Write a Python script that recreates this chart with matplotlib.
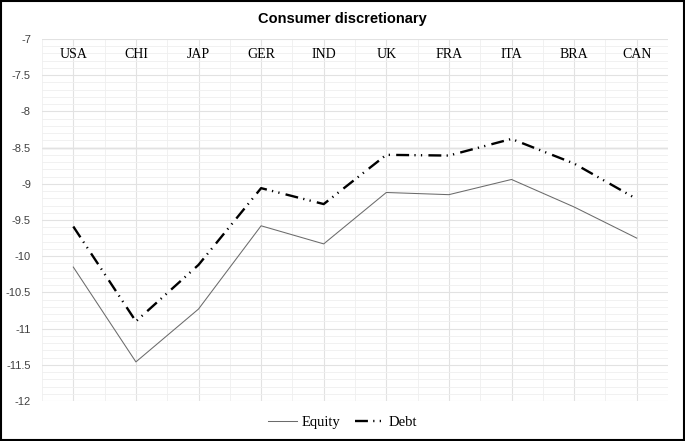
import matplotlib.pyplot as plt
import numpy as np

plt.rcParams['lines.scale_dashes'] = False

# data
countries = ['USA', 'CHI', 'JAP', 'GER', 'IND', 'UK', 'FRA', 'ITA', 'BRA', 'CAN']
equity = [-10.15, -11.46, -10.73, -9.58, -9.83, -9.12, -9.15, -8.94, -9.32, -9.75]
debt = [-9.59, -10.90, -10.12, -9.06, -9.28, -8.60, -8.61, -8.38, -8.72, -9.21]

fig = plt.figure(figsize=(6.85, 4.41), dpi=100)
ax = fig.add_axes([42 / 685, 40 / 441, 626 / 685, 362 / 441])

x = np.arange(len(countries))
ax.plot(x, equity, '-', color='#6b6b6b', lw=0.75, label='Equity')
ax.plot(x, debt, color='black', lw=1.7, dashes=(9.3, 3.8, 0.9, 3.8, 0.9, 4.5), label='Debt')

ax.set_xlim(-0.48, 9.45)
ax.set_ylim(-12, -7)
ax.set_yticks(np.arange(-12, -6.9, 0.5))
ax.set_yticklabels([f'{v:g}' for v in np.arange(-12, -6.9, 0.5)],
                   fontsize=8, color='#404040', family='Liberation Sans')
ax.set_yticks(np.arange(-12, -7, 0.1), minor=True)
ax.set_xticks(x)
ax.set_xticklabels([])
ax.set_xticks(np.arange(-0.5, 9.6, 1.0), minor=True)
ax.tick_params(axis='both', which='both', length=0)
ax.tick_params(axis='y', pad=8)

ax.grid(True, which='major', color='#e2e2e2', lw=0.8)
ax.grid(True, which='minor', color='#efefef', lw=0.6)
ax.axhline(-8.5, color='#c8c8c8', lw=1.0, zorder=1)
for s in ax.spines.values():
    s.set_visible(False)

# category labels sit inside the top of the plot area
for i, c in enumerate(countries):
    ax.text(i, -7.22, c, ha='center', va='center', fontsize=10,
            family='Liberation Serif')

fig.text(0.5, 1 - 19 / 441, 'Consumer discretionary', ha='center', va='center',
         fontsize=10.5, fontweight='bold', family='Liberation Sans')

leg = fig.legend(loc='center', bbox_to_anchor=(0.5, 1 - 422 / 441), ncol=2, frameon=False,
                 prop={'family': 'Liberation Serif', 'size': 10.5},
                 handlelength=2.0, columnspacing=1.0, handletextpad=0.3)

# border around the figure
fig.patches.append(plt.Rectangle((0.002, 0.002), 0.996, 0.996, transform=fig.transFigure,
                                 fill=False, edgecolor='black', lw=1.5))

plt.savefig('out.png', dpi=100)
